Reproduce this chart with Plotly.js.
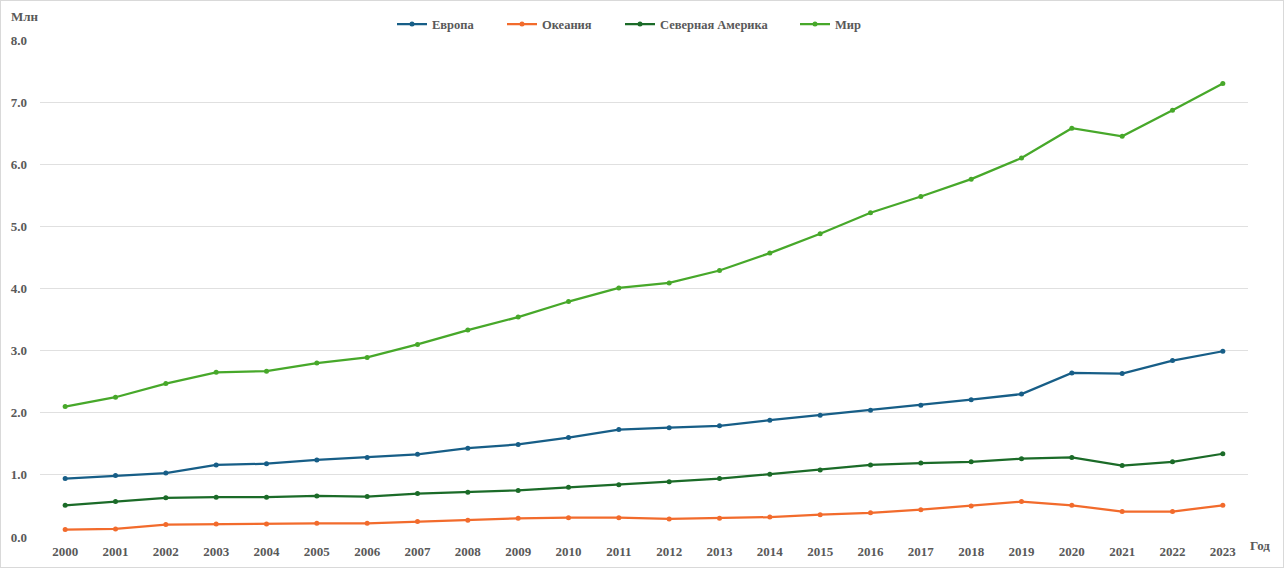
<!DOCTYPE html>
<html>
<head>
<meta charset="utf-8">
<script src="https://cdn.plot.ly/plotly-3.0.1.min.js"></script>
<style>
html,body{margin:0;padding:0;background:#fff;}
#wrap{position:absolute;left:0;top:0;width:1282px;height:566px;border:1px solid #d9d9d9;box-sizing:content-box;}
#chart{width:1284px;height:569px;position:absolute;left:-1px;top:-1px;}
</style>
</head>
<body>
<div id="wrap"><div id="chart"></div></div>
<script>
const years = ["2000","2001","2002","2003","2004","2005","2006","2007","2008","2009","2010","2011","2012","2013","2014","2015","2016","2017","2018","2019","2020","2021","2022","2023"];
const europe = [0.94,0.99,1.03,1.16,1.18,1.24,1.28,1.33,1.43,1.49,1.60,1.73,1.76,1.79,1.88,1.96,2.04,2.12,2.21,2.30,2.64,2.63,2.84,2.99];
const oceania = [0.12,0.13,0.20,0.21,0.21,0.22,0.22,0.25,0.27,0.30,0.31,0.31,0.29,0.30,0.32,0.36,0.39,0.44,0.50,0.57,0.51,0.41,0.41,0.51];
const northAmerica = [0.51,0.57,0.63,0.64,0.64,0.66,0.65,0.70,0.72,0.75,0.80,0.84,0.89,0.94,1.01,1.08,1.16,1.19,1.21,1.26,1.28,1.15,1.21,1.34];
const world = [2.10,2.25,2.47,2.65,2.67,2.80,2.89,3.10,3.33,3.54,3.79,4.01,4.09,4.29,4.57,4.88,5.22,5.48,5.76,6.10,6.58,6.45,6.87,7.30];
const yTicks = [0,1,2,3,4,5,6,7,8];

const FAM = "Liberation Serif";
function bold(s){ return {family:FAM, size:s||13, color:'#595959', weight:'bold'}; }
function tr(name, y, color, lg){
  return {x: years, y: y, name: name, type:'scatter', mode:'lines+markers', legend: lg,
    line:{color: color, width:2.25}, marker:{color: color, size:5}};
}
const data = [
  tr('Европа', europe, '#175e87', 'legend'),
  tr('Океания', oceania, '#f26b2c', 'legend2'),
  tr('Северная Америка', northAmerica, '#1b6b28', 'legend3'),
  tr('Мир', world, '#47a82a', 'legend4')
];
function lg(px){
  return {orientation:'h', x:px/1284, xref:'container', xanchor:'left', y:0.957, yref:'container', yanchor:'middle',
    font:bold(12.5), itemwidth:30, bgcolor:'rgba(0,0,0,0)'};
}
const layout = {
  width:1284, height:569,
  margin:{l:40, r:36, t:40, b:32},
  paper_bgcolor:'rgba(0,0,0,0)', plot_bgcolor:'#fff',
  font: bold(),
  showlegend:true,
  legend: lg(392), legend2: lg(502), legend3: lg(620), legend4: lg(795),
  xaxis:{type:'category', range:[-0.5,23.5], showgrid:false, zeroline:false, showline:false,
    ticks:'', ticklabelstandoff:5, tickfont:bold(), fixedrange:true},
  yaxis:{range:[0,8], tickvals:yTicks, tickformat:'.1f', showgrid:true, gridcolor:'#e0e0e0', gridwidth:1,
    zeroline:false, showline:false, ticks:'', ticklabelstandoff:12,
    tickfont:bold(), fixedrange:true},
  annotations:[
    {text:'Млн', xref:'paper', yref:'paper', x:-0.0124, y:1.048, xanchor:'center', yanchor:'middle', showarrow:false,
      font:bold()},
    {text:'Год', xref:'paper', yref:'paper', x:1.0, y:-0.018, xanchor:'left', yanchor:'middle', showarrow:false,
      font:bold()}
  ]
};
Plotly.newPlot('chart', data, layout, {displayModeBar:false, staticPlot:true});
</script>
</body>
</html>
